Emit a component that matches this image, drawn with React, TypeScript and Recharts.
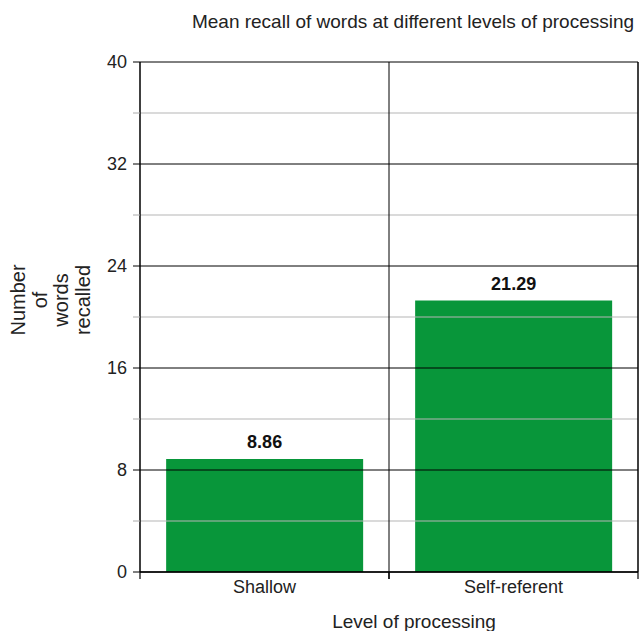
import React from "react"
import { BarChart, Bar, XAxis, YAxis, ReferenceLine, LabelList } from "recharts"

const categories = ["Shallow", "Self-referent"]
const meanRecall = [8.86, 21.29]
const majorTicks = [0, 8, 16, 24, 32, 40]
const minorTicks = [4, 12, 20, 28, 36]

const data = categories.map((name, i) => ({ name, value: meanRecall[i] }))
const allTicks = [...majorTicks, ...minorTicks].sort((a, b) => a - b)

const FONT = "'Liberation Sans', Arial, sans-serif"
const GREEN = "#08963a"
const X_MARGIN = 15

function YTick(props: any) {
  const { x, y, payload } = props
  const major = majorTicks.includes(payload.value)
  return (
    <g>
      <line x1={x + 6} x2={x + 13} y1={y} y2={y} stroke={major ? "#000" : "#aaa"} strokeWidth={1} />
      {major && (
        <text x={x} y={y} dy="0.36em" textAnchor="end" fontSize={18} fontFamily={FONT} fill="#222">
          {payload.value}
        </text>
      )}
    </g>
  )
}

// category label plus small tick marks at both edges of the band
function XTick(props: any) {
  const { x, y, payload } = props
  const half = payload.offset || 0
  const y0 = y - X_MARGIN
  return (
    <g>
      <line x1={x - half} x2={x - half} y1={y0} y2={y0 + 7} stroke="#000" strokeWidth={1.2} />
      <line x1={x + half} x2={x + half} y1={y0} y2={y0 + 7} stroke="#000" strokeWidth={1.2} />
      <text x={x} y={y} dy="0.36em" textAnchor="middle" fontSize={18} fontFamily={FONT} fill="#222">
        {payload.value}
      </text>
    </g>
  )
}

export default function App() {
  return (
    <div style={{ position: "absolute", left: 0, top: 0, width: 639, height: 631, background: "#fff" }}>
      <BarChart
        width={639}
        height={631}
        data={data}
        margin={{ top: 62, right: 1, left: 0, bottom: 0 }}
        barCategoryGap="10.5%"
      >
        <XAxis
          dataKey="name"
          height={59}
          axisLine={{ stroke: "#000", strokeWidth: 1.5 }}
          tickLine={false}
          tickSize={0}
          tickMargin={X_MARGIN}
          interval={0}
          tick={<XTick />}
        />
        <YAxis
          width={140}
          domain={[0, 40]}
          ticks={allTicks}
          interval={0}
          axisLine={{ stroke: "#000", strokeWidth: 1.5 }}
          tickLine={false}
          tickSize={7}
          tickMargin={6}
          tick={<YTick />}
        />
        {minorTicks.map((t) => (
          <ReferenceLine key={"mi" + t} y={t} stroke="#b5b5b5" strokeWidth={1} />
        ))}
        {majorTicks.map((t) => (
          <ReferenceLine key={"ma" + t} y={t} stroke="#000" strokeWidth={1} />
        ))}
        <ReferenceLine x={categories[1]} position="start" stroke="#000" strokeWidth={1} />
        <ReferenceLine x={categories[1]} position="end" stroke="#000" strokeWidth={1.5} />
        <Bar dataKey="value" fill={GREEN} isAnimationActive={false}>
          <LabelList
            dataKey="value"
            position="top"
            offset={11}
            formatter={(v: any) => Number(v).toFixed(2)}
            style={{ fontSize: 18, fontWeight: 700, fontFamily: FONT, fill: "#111" }}
          />
        </Bar>
      </BarChart>
      <svg width={639} height={631} style={{ position: "absolute", left: 0, top: 0, pointerEvents: "none" }}>
        <text x={413} y={28} textAnchor="middle" fontSize={19} fontFamily={FONT} fill="#222">
          Mean recall of words at different levels of processing
        </text>
        <text x={414} y={628} textAnchor="middle" fontSize={19} fontFamily={FONT} fill="#222">
          Level of processing
        </text>
        {["Number", "of", "words", "recalled"].map((w, i) => {
          const bx = 25 + i * 21.7
          return (
            <text
              key={w}
              x={bx}
              y={300}
              textAnchor="middle"
              fontSize={20}
              fontFamily={FONT}
              fill="#222"
              transform={`rotate(-90, ${bx}, 300)`}
            >
              {w}
            </text>
          )
        })}
      </svg>
    </div>
  )
}
